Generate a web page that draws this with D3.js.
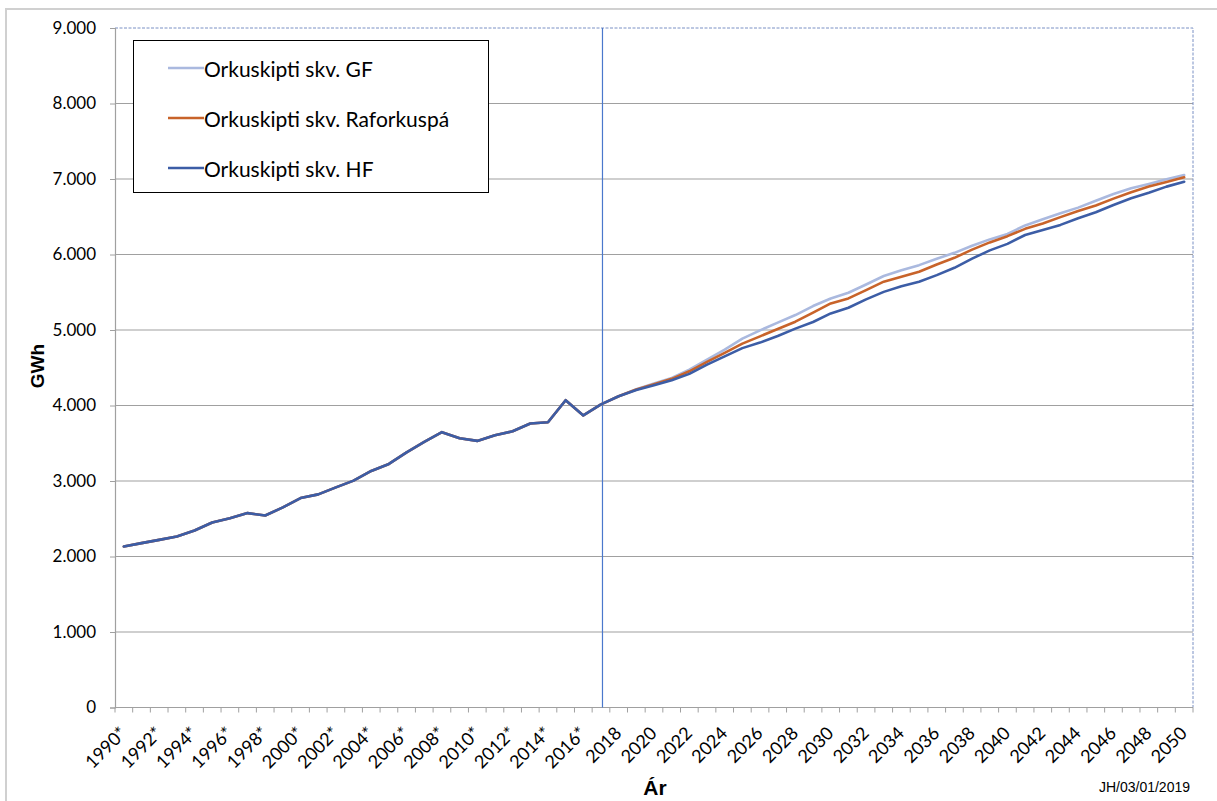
<!DOCTYPE html>
<html>
<head>
<meta charset="utf-8">
<script src="https://cdn.jsdelivr.net/npm/d3@7"></script>
<style>
  html, body { margin: 0; padding: 0; background: #fff; }
  svg { display: block; }
</style>
</head>
<body>
<svg id="chart" width="1217" height="801"></svg>
<script>
// ---------------- DATA ----------------
const years = d3.range(1990, 2051);
const tickLabels = years.map(y => (y < 2017 ? y + "*" : "" + y));
const seriesNames = ["Orkuskipti skv. GF", "Orkuskipti skv. Raforkuspá", "Orkuskipti skv. HF"];
const yTicks = [0, 1000, 2000, 3000, 4000, 5000, 6000, 7000, 8000, 9000];
const yTickLabels = ["0", "1.000", "2.000", "3.000", "4.000", "5.000", "6.000", "7.000", "8.000", "9.000"];
const dividerYear = 2017;

// shared history 1990-2017
const history = [2132, 2177, 2220, 2265, 2344, 2450, 2508, 2575, 2543, 2650,
                 2774, 2823, 2916, 3005, 3133, 3226, 3380, 3518, 3647, 3566,
                 3531, 3606, 3659, 3761, 3778, 4070, 3868, 4015];
// forecasts 2018-2050
const forecastGF = [4123, 4215, 4290, 4366, 4476, 4608, 4740, 4885, 4995, 5097,
                    5198, 5317, 5418, 5493, 5603, 5715, 5790, 5859, 5943, 6022,
                    6115, 6200, 6273, 6385, 6467, 6546, 6621, 6713, 6802, 6877,
                    6934, 6996, 7053];
const forecastRaf = [4123, 4212, 4280, 4353, 4453, 4577, 4696, 4819, 4916, 5013,
                     5110, 5229, 5352, 5418, 5529, 5640, 5705, 5771, 5867, 5956,
                     6065, 6160, 6243, 6340, 6410, 6495, 6575, 6650, 6740, 6825,
                     6900, 6960, 7022];
const forecastHF = [4123, 4205, 4268, 4334, 4419, 4542, 4651, 4760, 4833, 4921,
                    5018, 5106, 5220, 5295, 5405, 5505, 5580, 5639, 5727, 5824,
                    5945, 6055, 6141, 6258, 6326, 6392, 6480, 6560, 6656, 6745,
                    6819, 6899, 6964];
const seriesColors = ["#aab9df", "#c8632a", "#3c5da6"];

// ---------------- BUILD ----------------
const seriesValues = [
  history.concat(forecastGF),
  history.concat(forecastRaf),
  history.concat(forecastHF)
];
const series = seriesNames.map((name, i) => ({
  name, color: seriesColors[i],
  values: years.map((yr, j) => ({ year: yr, value: seriesValues[i][j] }))
}));

const svg = d3.select("#chart");
const plot = { left: 115, right: 1193, top: 28, bottom: 707.5 };

const x = d3.scaleBand().domain(years).range([plot.left, plot.right]).paddingInner(0).paddingOuter(0);
const y = d3.scaleLinear().domain([0, 9000]).range([plot.bottom, plot.top]);
const bw = x.bandwidth();
const cx = yr => x(yr) + bw / 2;
const font = "Lato, 'Open Sans', sans-serif";

// outer chart frame
svg.append("rect")
  .attr("x", 6).attr("y", 9).attr("width", 1400).attr("height", 1000)
  .attr("fill", "none").attr("stroke", "#d0d0d0").attr("stroke-width", 2);

// gridlines
svg.append("g").selectAll("line")
  .data(yTicks.filter(t => t > 0 && t < 9000))
  .join("line")
  .attr("x1", plot.left).attr("x2", plot.right)
  .attr("y1", d => y(d)).attr("y2", d => y(d))
  .attr("stroke", "#a0a0a0").attr("stroke-width", 1.2);

// plot area top/right dashed border
svg.append("path")
  .attr("d", `M${plot.left},${y(9000)}H${plot.right}V${y(0)}`)
  .attr("fill", "none").attr("stroke", "#7a90c4").attr("stroke-width", 1)
  .attr("stroke-dasharray", "3,1.5");

// y axis
const yAxis = d3.axisLeft(y).tickValues(yTicks)
  .tickFormat((d, i) => yTickLabels[i]).tickSize(5).tickPadding(14);
const gy = svg.append("g").attr("transform", `translate(${plot.left},0)`).call(yAxis);
gy.select(".domain").attr("stroke", "#a0a0a0").attr("stroke-width", 1.2);
gy.selectAll(".tick line").attr("stroke", "#a0a0a0");
gy.selectAll(".tick text")
  .attr("font-family", font)
  .attr("font-size", 17).attr("fill", "#000");

// x axis baseline
svg.append("line")
  .attr("x1", plot.left).attr("x2", plot.right)
  .attr("y1", y(0)).attr("y2", y(0))
  .attr("stroke", "#a0a0a0").attr("stroke-width", 1.2);

// x tick marks at category boundaries
const boundaries = years.map(yr => x(yr)).concat([x(years[years.length - 1]) + bw]);
svg.append("g").selectAll("line")
  .data(boundaries)
  .join("line")
  .attr("x1", d => d).attr("x2", d => d)
  .attr("y1", y(0)).attr("y2", y(0) + 5)
  .attr("stroke", "#a0a0a0").attr("stroke-width", 1);

// x tick labels (every other)
svg.append("g").selectAll("text")
  .data(years.filter((yr, i) => i % 2 === 0))
  .join("text")
  .attr("transform", d => `translate(${cx(d) - 1},${y(0) + 22}) rotate(-45)`)
  .attr("text-anchor", "end")
  .attr("dominant-baseline", "central")
  .attr("font-family", font)
  .attr("font-size", 18)
  .attr("fill", "#000")
  .text(d => tickLabels[years.indexOf(d)]);

// divider line
svg.append("line")
  .attr("x1", cx(dividerYear) + 1.5).attr("x2", cx(dividerYear) + 1.5)
  .attr("y1", y(9000)).attr("y2", y(0))
  .attr("stroke", "#4a78cc").attr("stroke-width", 1.2);

// series lines
const line = d3.line().x(d => cx(d.year)).y(d => y(d.value));
svg.append("g").selectAll("path")
  .data(series)
  .join("path")
  .attr("d", d => line(d.values))
  .attr("fill", "none")
  .attr("stroke", d => d.color)
  .attr("stroke-width", 2.6)
  .attr("stroke-linejoin", "round")
  .attr("stroke-linecap", "round");

// legend
const legend = svg.append("g");
legend.append("rect")
  .attr("x", 133.5).attr("y", 40.5).attr("width", 355).attr("height", 152)
  .attr("fill", "#fff").attr("stroke", "#000").attr("stroke-width", 1);
const items = legend.selectAll("g.item").data(series).join("g")
  .attr("transform", (d, i) => `translate(0,${68 + i * 50})`);
items.append("line")
  .attr("x1", 168).attr("x2", 204).attr("y1", 0).attr("y2", 0)
  .attr("stroke", d => d.color).attr("stroke-width", 2.6);
items.append("text")
  .attr("x", 204).attr("y", 0)
  .attr("dominant-baseline", "central")
  .attr("font-family", font)
  .attr("font-size", 21).attr("fill", "#000")
  .text(d => d.name);

// axis titles
svg.append("text")
  .attr("transform", `translate(44,366) rotate(-90)`)
  .attr("text-anchor", "middle")
  .attr("font-family", "'Liberation Sans', Arial, sans-serif")
  .attr("font-weight", "bold").attr("font-size", 19)
  .attr("fill", "#000")
  .text("GWh");

svg.append("text")
  .attr("x", 655).attr("y", 795)
  .attr("text-anchor", "middle")
  .attr("font-family", "'Liberation Sans', Arial, sans-serif")
  .attr("font-weight", "bold").attr("font-size", 21)
  .attr("fill", "#000")
  .text("Ár");

svg.append("text")
  .attr("x", 1190).attr("y", 792)
  .attr("text-anchor", "end")
  .attr("font-family", "'Liberation Sans', Arial, sans-serif")
  .attr("font-size", 14)
  .attr("fill", "#000")
  .text("JH/03/01/2019");
</script>
</body>
</html>
